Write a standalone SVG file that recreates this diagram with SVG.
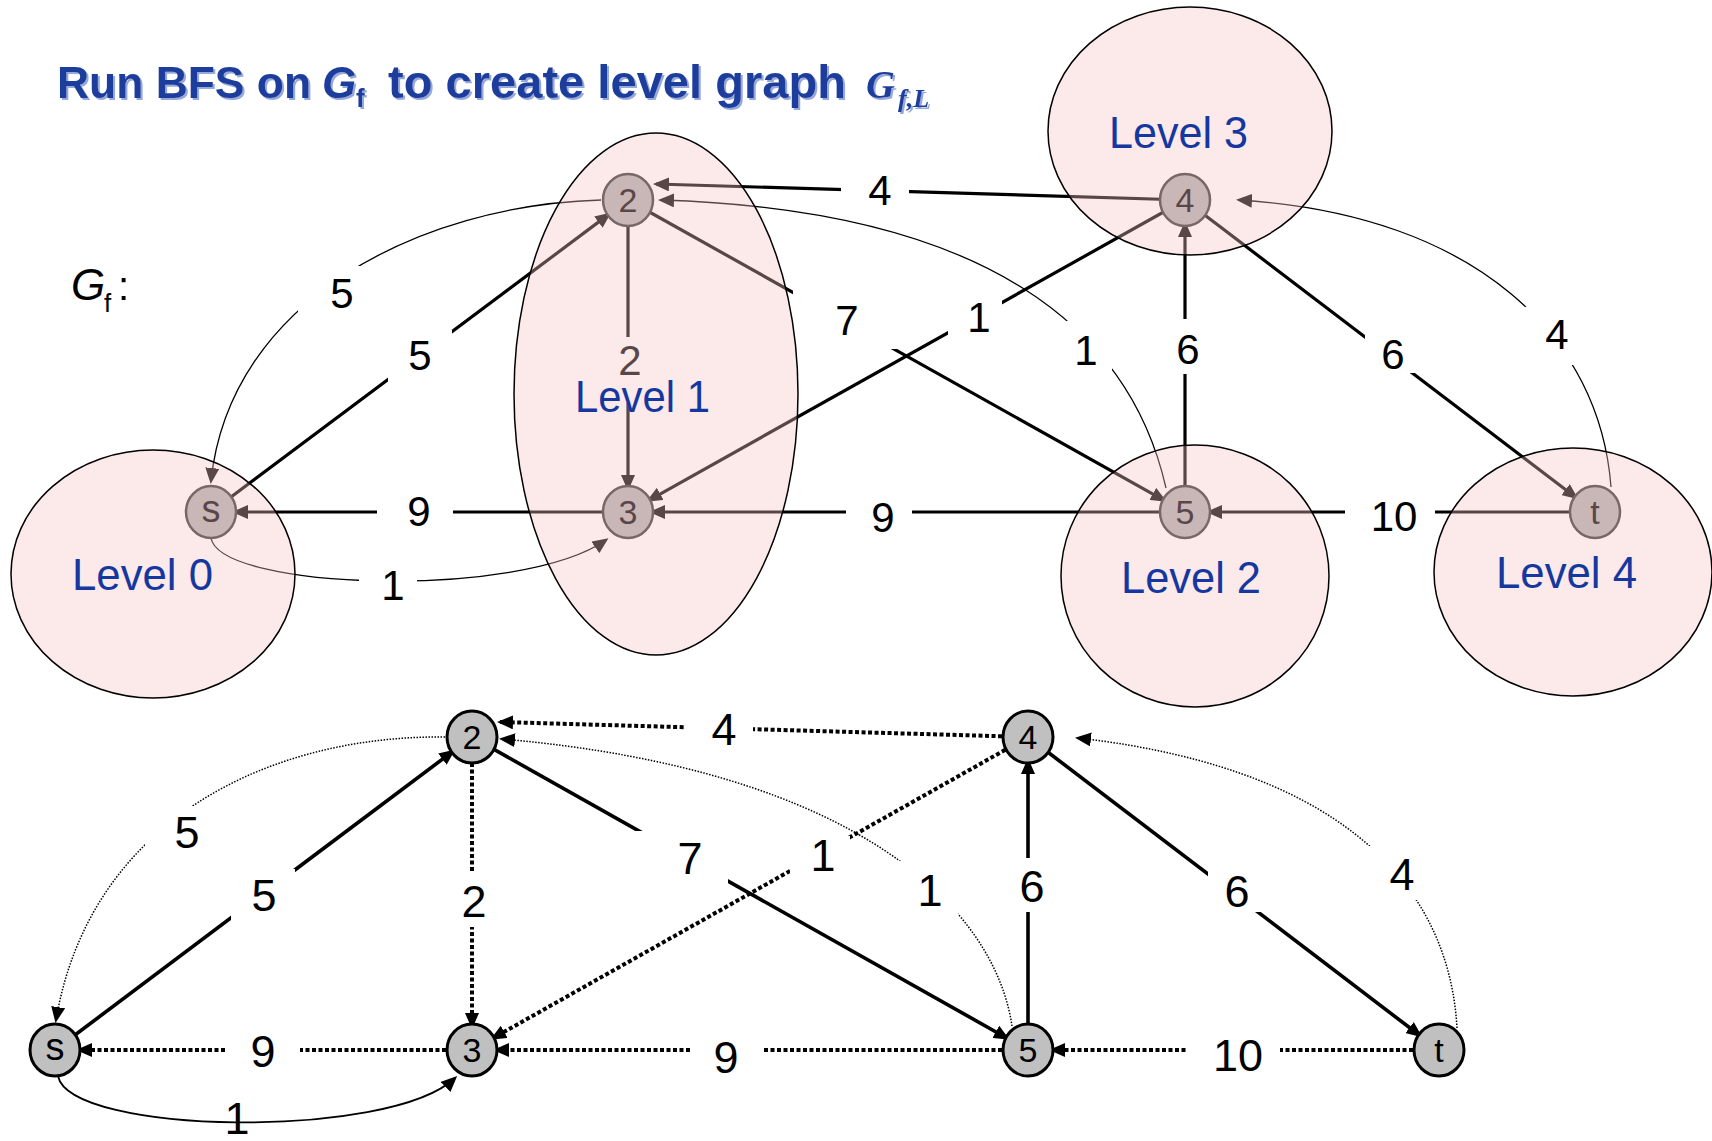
<svg xmlns="http://www.w3.org/2000/svg" width="1712" height="1141" viewBox="0 0 1712 1141">
<defs>
<marker id="ah" viewBox="0 0 16 14" markerUnits="userSpaceOnUse" markerWidth="16" markerHeight="14" refX="13" refY="7" orient="auto"><path d="M0,0 L16,7 L0,14 z" fill="#000"/></marker>
<filter id="sh" x="-5%" y="-20%" width="110%" height="140%"><feDropShadow dx="2" dy="2" stdDeviation="0.5" flood-color="#8aa0d8" flood-opacity="0.9"/></filter>
</defs>
<style>
text{font-family:"Liberation Sans",Arial,sans-serif}
.thick{fill:none;stroke:#000;stroke-width:3.2}
.thin{fill:none;stroke:#000;stroke-width:1.3}
.dot{fill:none;stroke:#000;stroke-width:4;stroke-dasharray:4 2.5}
.tdot{fill:none;stroke:#000;stroke-width:1.5;stroke-dasharray:1.5 1.5}
.bg{fill:#fff}
.lbl{font-size:42px;text-anchor:middle;fill:#000}
.lblb{font-size:45px;text-anchor:middle;fill:#000}
.ntop ellipse{fill:#b0b0b0;stroke:#333;stroke-width:2.5}
.nbot ellipse{fill:#c0c0c0;stroke:#000;stroke-width:3}
.nl{font-size:34px;text-anchor:middle;fill:#000}
.lvl{fill:#f7c3c6;fill-opacity:0.36;stroke:#000;stroke-width:1.5}
.lvltxt{font-size:44px;fill:#1437a0}
.ttl{fill:#1f3d9c;font-weight:bold}
</style>
<rect width="1712" height="1141" fill="#fff"/>

<g id="title" class="ttl" filter="url(#sh)">
<text x="57" y="98" font-size="44" textLength="254" lengthAdjust="spacingAndGlyphs">Run BFS on</text>
<text x="322" y="98" font-size="44" font-style="italic">G</text>
<text x="356" y="107" font-size="26">f</text>
<text x="388" y="98" font-size="46" textLength="458" lengthAdjust="spacingAndGlyphs">to create level graph</text>
<text x="866" y="98" font-size="40" font-style="italic" style="font-family:'Liberation Serif',serif">G</text>
<text x="898" y="107" font-size="26" font-style="italic" style="font-family:'Liberation Serif',serif">f,L</text>
</g>

<g id="gf-label">
<text x="71" y="300" font-size="44" font-style="italic">G</text>
<text x="104" y="312" font-size="26">f</text>
<text x="118" y="300" font-size="40">:</text>
</g>

<!-- top graph connectors -->
<g id="top-connectors">
<line class="thick" x1="211" y1="512" x2="608.8" y2="214.4" marker-end="url(#ah)"/>
<path class="thin" d="M601 200 C420 205 230 300 211 481" marker-end="url(#ah)"/>
<line class="thick" x1="628" y1="200" x2="628" y2="488" marker-end="url(#ah)"/>
<line class="thick" x1="628" y1="200" x2="1164.1" y2="500.3" marker-end="url(#ah)"/>
<line class="thick" x1="1185" y1="200" x2="656" y2="184" marker-end="url(#ah)"/>
<path class="thin" d="M1166 488 C1130 330 990 210 661 200" marker-end="url(#ah)"/>
<line class="thick" x1="1185" y1="200" x2="648.9" y2="500.3" marker-end="url(#ah)"/>
<line class="thick" x1="1185" y1="512" x2="1185" y2="224" marker-end="url(#ah)"/>
<line class="thick" x1="1185" y1="200" x2="1575.9" y2="497.5" marker-end="url(#ah)"/>
<path class="thin" d="M1611 487 C1600 340 1480 215 1239 200" marker-end="url(#ah)"/>
<line class="thick" x1="628" y1="512" x2="235" y2="512" marker-end="url(#ah)"/>
<line class="thick" x1="1185" y1="512" x2="652" y2="512" marker-end="url(#ah)"/>
<line class="thick" x1="1595" y1="512" x2="1209" y2="512" marker-end="url(#ah)"/>
<path class="thin" d="M211 538 C220 590 520 600 606 540" marker-end="url(#ah)"/>

<rect class="bg" x="388" y="330" width="64" height="54"/><text class="lbl" x="420" y="370">5</text>
<rect class="bg" x="298" y="266" width="64" height="56"/><text class="lbl" x="342" y="308">5</text>
<rect class="bg" x="601" y="337" width="54" height="66"/><text class="lbl" x="630" y="375">2</text>
<rect class="bg" x="793" y="287" width="120" height="62"/><text class="lbl" x="847" y="335">7</text>
<rect class="bg" x="841" y="164" width="68" height="54"/><text class="lbl" x="880" y="205">4</text>
<rect class="bg" x="948" y="299" width="54" height="54"/><text class="lbl" x="979" y="332">1</text>
<rect class="bg" x="1056" y="321" width="56" height="54"/><text class="lbl" x="1086" y="365">1</text>
<rect class="bg" x="1158" y="319" width="54" height="55"/><text class="lbl" x="1188" y="364">6</text>
<rect class="bg" x="1365" y="319" width="64" height="54"/><text class="lbl" x="1393" y="369">6</text>
<rect class="bg" x="1510" y="307" width="66" height="58"/><text class="lbl" x="1557" y="349">4</text>
<rect class="bg" x="377" y="485" width="76" height="54"/><text class="lbl" x="419" y="526">9</text>
<rect class="bg" x="846" y="485" width="66" height="54"/><text class="lbl" x="883" y="532">9</text>
<rect class="bg" x="1345" y="485" width="90" height="54"/><text class="lbl" x="1394" y="531">10</text>
<rect class="bg" x="359" y="558" width="58" height="54"/><text class="lbl" x="393" y="600">1</text>
</g>

<g id="top-nodes" class="ntop">
<g id="top-s"><ellipse cx="211" cy="512" rx="25" ry="26"/><text class="nl" x="211" y="522" style="font-size:38px">s</text></g>
<g id="top-2"><ellipse cx="628" cy="200" rx="25" ry="26"/><text class="nl" x="628" y="212">2</text></g>
<g id="top-3"><ellipse cx="628" cy="512" rx="25" ry="26"/><text class="nl" x="628" y="524">3</text></g>
<g id="top-4"><ellipse cx="1185" cy="200" rx="25" ry="26"/><text class="nl" x="1185" y="212">4</text></g>
<g id="top-5"><ellipse cx="1185" cy="512" rx="25" ry="26"/><text class="nl" x="1185" y="524">5</text></g>
<g id="top-t"><ellipse cx="1595" cy="512" rx="25" ry="26"/><text class="nl" x="1595" y="524">t</text></g>
</g>

<g id="levels">
<g id="level-0"><ellipse class="lvl" cx="153" cy="574" rx="142" ry="124"/><text class="lvltxt" x="72" y="590" textLength="141" lengthAdjust="spacingAndGlyphs">Level 0</text></g>
<g id="level-1"><ellipse class="lvl" cx="656" cy="394" rx="142" ry="261"/><text class="lvltxt" x="575" y="412" textLength="135" lengthAdjust="spacingAndGlyphs">Level 1</text></g>
<g id="level-3"><ellipse class="lvl" cx="1190" cy="131" rx="142" ry="124"/><text class="lvltxt" x="1109" y="148" textLength="139" lengthAdjust="spacingAndGlyphs">Level 3</text></g>
<g id="level-2"><ellipse class="lvl" cx="1195" cy="576" rx="134" ry="131"/><text class="lvltxt" x="1121" y="593" textLength="140" lengthAdjust="spacingAndGlyphs">Level 2</text></g>
<g id="level-4"><ellipse class="lvl" cx="1573" cy="572" rx="139" ry="124"/><text class="lvltxt" x="1496" y="588" textLength="141" lengthAdjust="spacingAndGlyphs">Level 4</text></g>
</g>

<!-- bottom graph connectors -->
<g id="bottom-connectors">
<line class="thick" style="stroke-width:3.6" x1="55" y1="1050" x2="452.8" y2="751.4" marker-end="url(#ah)"/>
<line class="thick" style="stroke-width:3.6" x1="472" y1="737" x2="1007.1" y2="1038.2" marker-end="url(#ah)"/>
<line class="thick" style="stroke-width:3.6" x1="1028" y1="1050" x2="1028" y2="761" marker-end="url(#ah)"/>
<line class="thick" style="stroke-width:3.6" x1="1028" y1="737" x2="1419.9" y2="1035.5" marker-end="url(#ah)"/>
<path class="thin" style="stroke-width:1.8" d="M58 1076 C70 1135 390 1140 455 1078" marker-end="url(#ah)"/>
<line class="dot" x1="1028" y1="737" x2="500" y2="722" marker-end="url(#ah)"/>
<line class="dot" x1="472" y1="737" x2="472" y2="1026" marker-end="url(#ah)"/>
<line class="dot" x1="1028" y1="737" x2="492.9" y2="1038.2" marker-end="url(#ah)"/>
<line class="dot" x1="472" y1="1050" x2="79" y2="1050" marker-end="url(#ah)"/>
<line class="dot" x1="1028" y1="1050" x2="496" y2="1050" marker-end="url(#ah)"/>
<line class="dot" x1="1439" y1="1050" x2="1052" y2="1050" marker-end="url(#ah)"/>
<path class="tdot" d="M445 737 C270 735 90 820 56 1020" marker-end="url(#ah)"/>
<path class="tdot" d="M1012 1026 C995 910 860 770 502 739" marker-end="url(#ah)"/>
<path class="tdot" d="M1457 1028 C1450 900 1360 770 1078 738" marker-end="url(#ah)"/>

<rect class="bg" x="685" y="702" width="68" height="54"/><text class="lblb" x="724" y="745">4</text>
<rect class="bg" x="145" y="806" width="70" height="54"/><text class="lblb" x="187" y="848">5</text>
<rect class="bg" x="231" y="869" width="64" height="54"/><text class="lblb" x="264" y="911">5</text>
<rect class="bg" x="444" y="873" width="56" height="54"/><text class="lblb" x="474" y="917">2</text>
<rect class="bg" x="632" y="831" width="96" height="54"/><text class="lblb" x="690" y="874">7</text>
<rect class="bg" x="790" y="836" width="60" height="54"/><text class="lblb" x="823" y="871">1</text>
<rect class="bg" x="898" y="861" width="60" height="54"/><text class="lblb" x="930" y="906">1</text>
<rect class="bg" x="1001" y="858" width="54" height="54"/><text class="lblb" x="1032" y="902">6</text>
<rect class="bg" x="1208" y="858" width="64" height="54"/><text class="lblb" x="1237" y="907">6</text>
<rect class="bg" x="1358" y="846" width="64" height="54"/><text class="lblb" x="1402" y="890">4</text>
<rect class="bg" x="226" y="1023" width="74" height="54"/><text class="lblb" x="263" y="1067">9</text>
<rect class="bg" x="690" y="1023" width="72" height="54"/><text class="lblb" x="726" y="1073">9</text>
<rect class="bg" x="1188" y="1023" width="92" height="54"/><text class="lblb" x="1238" y="1071">10</text>
<text class="lblb" x="237" y="1134">1</text>
</g>

<g id="bottom-nodes" class="nbot">
<g id="bot-s"><ellipse cx="55" cy="1050" rx="25" ry="26"/><text class="nl" x="55" y="1060" style="font-size:38px">s</text></g>
<g id="bot-2"><ellipse cx="472" cy="737" rx="25" ry="26"/><text class="nl" x="472" y="749">2</text></g>
<g id="bot-3"><ellipse cx="472" cy="1050" rx="25" ry="26"/><text class="nl" x="472" y="1062">3</text></g>
<g id="bot-4"><ellipse cx="1028" cy="737" rx="25" ry="26"/><text class="nl" x="1028" y="749">4</text></g>
<g id="bot-5"><ellipse cx="1028" cy="1050" rx="25" ry="26"/><text class="nl" x="1028" y="1062">5</text></g>
<g id="bot-t"><ellipse cx="1439" cy="1050" rx="25" ry="26"/><text class="nl" x="1439" y="1062">t</text></g>
</g>
</svg>
